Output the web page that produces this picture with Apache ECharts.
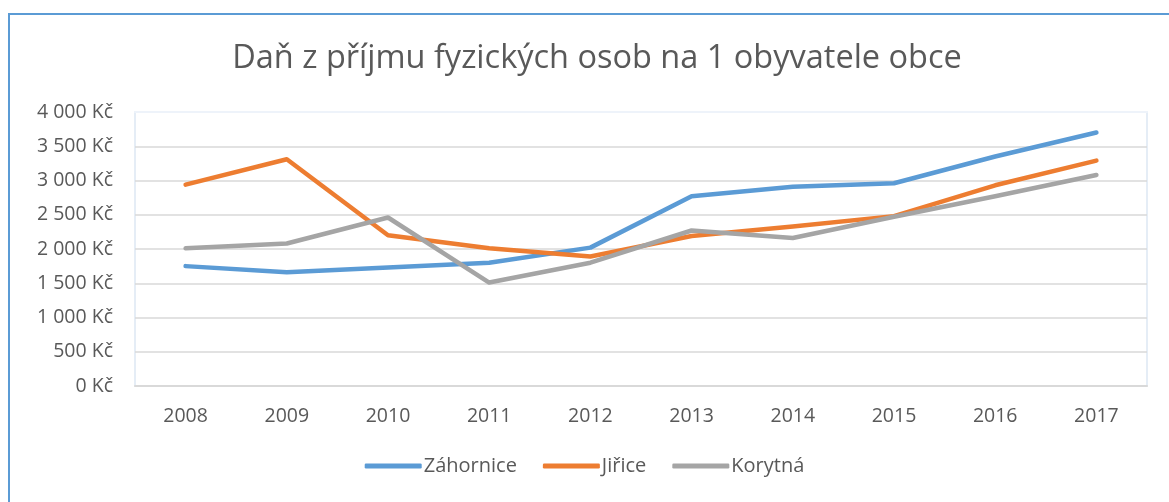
<!DOCTYPE html>
<html>
<head>
<meta charset="UTF-8">
<title>Daň z příjmu fyzických osob</title>
<script src="https://cdn.jsdelivr.net/npm/echarts@6/dist/echarts.min.js"></script>
<style>
  body { margin:0; background:#fff; overflow:hidden; }
  #frame {
    position:absolute; left:8px; top:13px; width:1200px; height:520px;
    border:2px solid #5b9bd5; box-sizing:border-box;
  }
  #chart { position:absolute; left:0; top:0; width:1169px; height:502px; }
</style>
</head>
<body>
<div id="frame"></div>
<div id="chart"></div>
<script>
// roky
var years = ['2008','2009','2010','2011','2012','2013','2014','2015','2016','2017'];
// daň na obyvatele (Kč)
var zahornice = [1750, 1660, 1730, 1800, 2020, 2770, 2910, 2960, 3350, 3700];
var jirice    = [2940, 3310, 2200, 2010, 1890, 2190, 2330, 2480, 2930, 3290];
var korytna   = [2010, 2080, 2460, 1510, 1800, 2270, 2160, 2470, 2770, 3080];
var yTicks = { min: 0, max: 4000, step: 500 };

var FONT = 'Open Sans';
var TXT = '#595959';

function fmtKc(v) {
  return String(v).replace(/\B(?=(\d{3})+(?!\d))/g, ' ') + ' Kč';
}

function lineSeries(name, data, color) {
  return {
    name: name, type: 'line', data: data,
    symbol: 'none', smooth: false,
    lineStyle: { width: 4.5, color: color, cap: 'round', join: 'round' },
    itemStyle: { color: color }
  };
}

var chart = echarts.init(document.getElementById('chart'));
chart.setOption({
  animation: false,
  title: {
    text: 'Daň z příjmu fyzických osob na 1 obyvatele obce',
    left: 592, top: 37, textAlign: 'center',
    textStyle: { fontFamily: FONT, fontSize: 32.5, fontWeight: 'normal', color: TXT }
  },
  legend: {
    bottom: 21, left: 'center',
    icon: 'roundRect', itemWidth: 57, itemHeight: 5, itemGap: 26,
    textStyle: { fontFamily: FONT, fontSize: 20, color: TXT, padding: [0, 0, 0, -3] },
    data: ['Záhornice', 'Jiřice', 'Korytná']
  },
  grid: {
    left: 135, right: 22, top: 112, bottom: 116,
    show: true, borderColor: '#dde8f4', borderWidth: 1.5
  },
  xAxis: [{
    type: 'category', data: years, boundaryGap: true,
    axisLine: { lineStyle: { color: '#d9d9d9', width: 2 } },
    axisTick: { show: false },
    axisLabel: { fontFamily: FONT, fontSize: 19.5, color: TXT, margin: 20 }
  }, {
    type: 'category', data: years, position: 'top',
    axisLine: { lineStyle: { color: '#eef3fa', width: 2 } },
    axisTick: { show: false }, axisLabel: { show: false }
  }],
  yAxis: {
    type: 'value', min: yTicks.min, max: yTicks.max, interval: yTicks.step,
    axisLine: { show: false }, axisTick: { show: false },
    axisLabel: { fontFamily: FONT, fontSize: 19.5, color: TXT, margin: 22, formatter: fmtKc },
    splitLine: { lineStyle: { color: '#d9d9d9', width: 1.5 } }
  },
  series: [
    lineSeries('Záhornice', zahornice, '#5b9bd5'),
    lineSeries('Jiřice', jirice, '#ed7d31'),
    lineSeries('Korytná', korytna, '#a5a5a5')
  ]
});
</script>
</body>
</html>
